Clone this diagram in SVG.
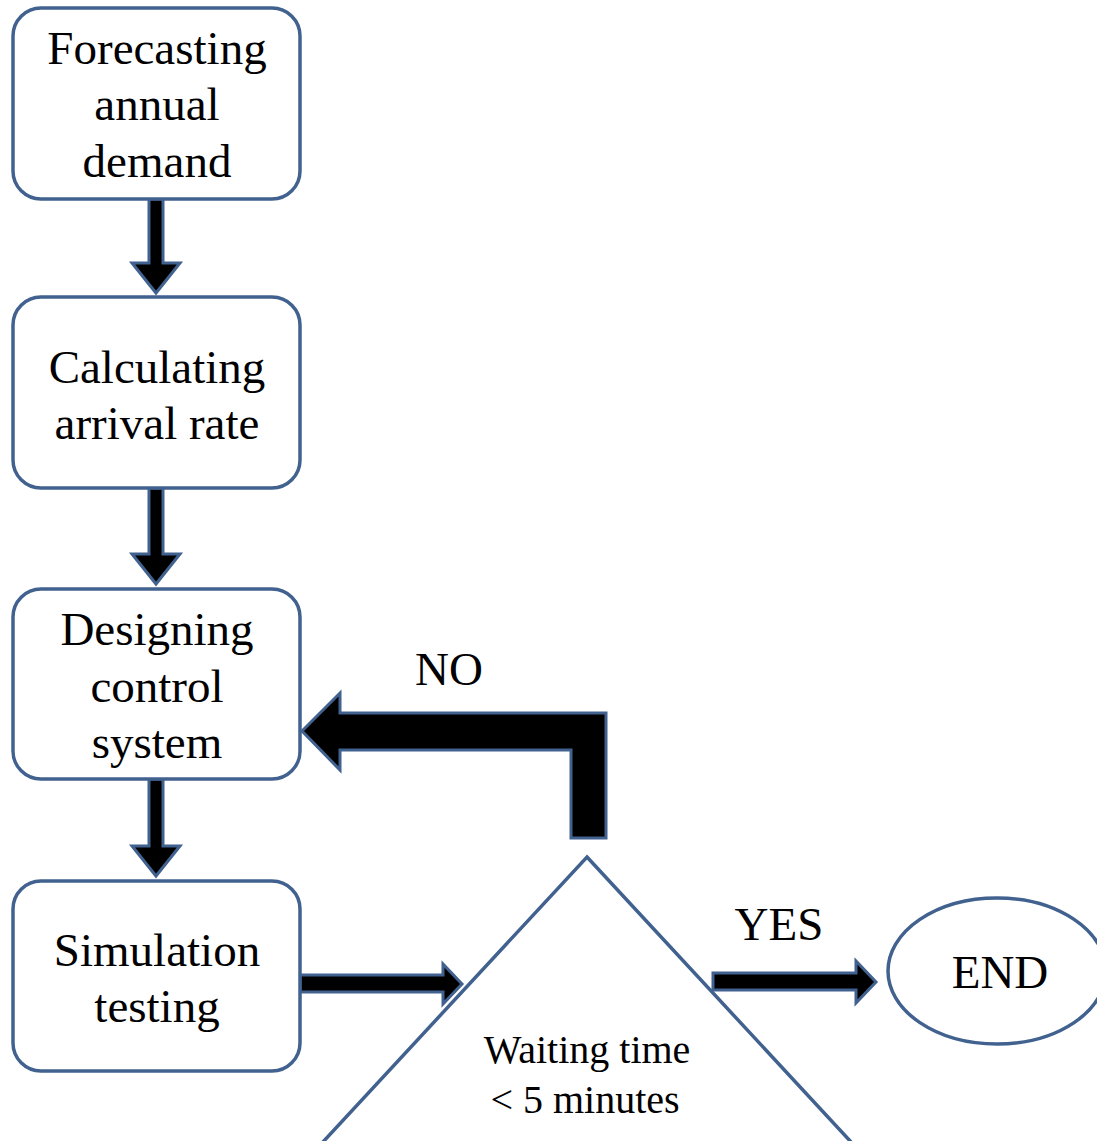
<svg xmlns="http://www.w3.org/2000/svg" width="1097" height="1141" viewBox="0 0 1097 1141">
<style>
.box{fill:#fff;stroke:#41618F;stroke-width:3.5}
.arr{fill:#000;stroke:#41618F;stroke-width:3;stroke-linejoin:miter}
.t{font-family:"Liberation Serif","Times New Roman",serif;font-size:47px;fill:#000;text-anchor:middle}
.s{font-size:40px}
</style>
<rect width="1097" height="1141" fill="#fff"/>
<g id="connectors">
<path class="arr" d="M149,199 L163,199 L163,263 L180,263 L156,293 L132,263 L149,263 Z"/>
<path class="arr" d="M149,488 L163,488 L163,554 L180,554 L156,584 L132,554 L149,554 Z"/>
<path class="arr" d="M149,779 L163,779 L163,846 L180,846 L156,876 L132,846 L149,846 Z"/>
<path class="arr" d="M302,731 L340,693 L340,713 L606,713 L606,838 L571,838 L571,750 L340,750 L340,770 Z"/>
<path class="arr" d="M300,975 L443,975 L443,964 L462,984 L443,1004 L443,992 L300,992 Z"/>
<path class="arr" d="M713,973 L856,973 L856,961 L876,982 L856,1003 L856,990 L713,990 Z"/>
</g>
<g id="n1"><rect class="box" x="13" y="8" width="287" height="191" rx="28"/>
<text class="t" x="157" y="64">Forecasting</text><text class="t" x="157" y="120">annual</text><text class="t" x="157" y="177">demand</text></g>
<g id="n2"><rect class="box" x="13" y="297" width="287" height="191" rx="28"/>
<text class="t" x="157" y="383">Calculating</text><text class="t" x="157" y="439">arrival rate</text></g>
<g id="n3"><rect class="box" x="13" y="589" width="287" height="190" rx="28"/>
<text class="t" x="157" y="645">Designing</text><text class="t" x="157" y="702">control</text><text class="t" x="157" y="758">system</text></g>
<g id="n4"><rect class="box" x="13" y="881" width="287" height="190" rx="28"/>
<text class="t" x="157" y="966">Simulation</text><text class="t" x="157" y="1022">testing</text></g>
<g id="n5"><polygon class="box" points="587,857 877,1170 297,1170"/>
<text class="t s" x="587" y="1063">Waiting time</text><text class="t s" x="585" y="1113">&lt; 5 minutes</text></g>
<g id="n6"><ellipse class="box" cx="997" cy="971" rx="109" ry="73"/>
<text class="t" x="1000" y="988">END</text></g>
<g id="labels">
<text class="t" x="449" y="685">NO</text>
<text class="t" x="779" y="940">YES</text>
</g>
</svg>
